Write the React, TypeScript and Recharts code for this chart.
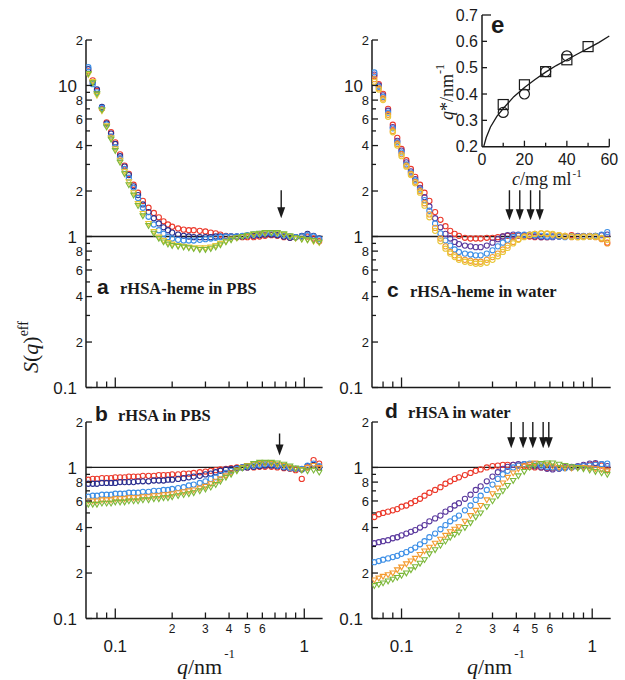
import React from 'react';
import { ScatterChart, Scatter, XAxis, YAxis, ReferenceLine } from 'recharts';

// q grid (nm^-1) shared by all S(q) curves
const qGrid = [0.072, 0.076, 0.08, 0.085, 0.09, 0.095, 0.1, 0.106, 0.112, 0.118, 0.125, 0.132, 0.14, 0.15, 0.16, 0.17, 0.18, 0.19, 0.2, 0.215, 0.23, 0.245, 0.26, 0.28, 0.3, 0.32, 0.34, 0.36, 0.385, 0.41, 0.44, 0.47, 0.5, 0.54, 0.58, 0.62, 0.67, 0.72, 0.78, 0.84, 0.9, 0.97, 1.04, 1.12, 1.2];

// a: rHSA-heme in PBS
const hemePbsRed = [12.4, 10.8, 9.2, 7.0, 5.7, 4.9, 4.2, 3.5, 2.95, 2.6, 2.2, 1.95, 1.72, 1.55, 1.43, 1.34, 1.26, 1.2, 1.16, 1.13, 1.11, 1.1, 1.1, 1.09, 1.08, 1.06, 1.05, 1.03, 1.01, 1.0, 0.99, 0.99, 0.99, 0.99, 1.0, 1.01, 1.02, 1.01, 0.99, 0.98, 0.99, 1.0, 1.0, 0.97, 0.93];
const hemePbsNavy = [12.8, 10.5, 9.4, 7.2, 5.6, 4.8, 4.1, 3.4, 2.9, 2.55, 2.15, 1.88, 1.63, 1.45, 1.32, 1.22, 1.15, 1.1, 1.06, 1.03, 1.01, 1.0, 0.99, 0.99, 0.99, 0.99, 1.0, 1.0, 1.0, 1.0, 1.0, 1.0, 1.01, 1.01, 1.02, 1.03, 1.03, 1.02, 1.0, 0.98, 0.99, 1.01, 1.04, 1.01, 0.97];
const hemePbsBlue = [13.2, 10.2, 9.0, 7.1, 5.5, 4.6, 3.9, 3.3, 2.8, 2.45, 2.1, 1.8, 1.55, 1.35, 1.2, 1.1, 1.04, 0.99, 0.97, 0.95, 0.94, 0.94, 0.94, 0.95, 0.96, 0.97, 0.98, 0.99, 1.0, 1.0, 1.0, 1.01, 1.02, 1.03, 1.04, 1.05, 1.05, 1.04, 1.02, 1.0, 0.99, 1.0, 1.02, 1.0, 0.96];
const hemePbsYellow = [11.8, 10.6, 8.6, 6.8, 5.4, 4.5, 3.8, 3.2, 2.7, 2.3, 1.95, 1.65, 1.42, 1.22, 1.08, 0.99, 0.94, 0.91, 0.89, 0.87, 0.86, 0.85, 0.84, 0.84, 0.84, 0.85, 0.87, 0.9, 0.93, 0.96, 0.98, 1.0, 1.01, 1.03, 1.04, 1.05, 1.06, 1.05, 1.03, 1.0, 0.97, 0.96, 0.95, 0.93, 0.91];
const hemePbsGreen = [12.0, 10.4, 8.8, 6.9, 5.3, 4.4, 3.7, 3.1, 2.6, 2.2, 1.88, 1.6, 1.37, 1.18, 1.05, 0.97, 0.92, 0.89, 0.87, 0.86, 0.85, 0.84, 0.83, 0.82, 0.82, 0.83, 0.85, 0.88, 0.92, 0.95, 0.98, 1.0, 1.02, 1.04, 1.05, 1.06, 1.06, 1.06, 1.04, 1.01, 0.98, 0.96, 0.95, 0.94, 0.92];

// c: rHSA-heme in water
const hemeWaterRed = [11.5, 10.2, 8.8, 7.0, 5.5, 4.5, 3.8, 3.2, 2.8, 2.48, 2.2, 1.95, 1.72, 1.45, 1.29, 1.17, 1.09, 1.04, 1.01, 0.98, 0.97, 0.97, 0.97, 0.98, 0.98, 0.99, 1.0, 1.01, 1.01, 1.01, 1.0, 1.0, 0.99, 0.99, 0.99, 1.0, 1.0, 1.01, 1.02, 1.01, 1.0, 1.0, 1.0, 0.97, 0.91];
const hemeWaterPurple = [11.8, 10.0, 8.6, 6.8, 5.3, 4.3, 3.7, 3.1, 2.7, 2.4, 2.1, 1.82, 1.58, 1.32, 1.15, 1.04, 0.97, 0.92, 0.89, 0.87, 0.86, 0.85, 0.85, 0.87, 0.91, 0.96, 1.0, 1.02, 1.03, 1.03, 1.02, 1.01, 1.0, 0.99, 0.99, 0.99, 1.0, 1.0, 1.0, 1.0, 1.0, 1.01, 1.01, 1.02, 1.03];
const hemeWaterBlue = [12.2, 9.8, 8.4, 6.6, 5.2, 4.2, 3.6, 3.0, 2.65, 2.35, 2.05, 1.74, 1.48, 1.22, 1.05, 0.94, 0.87, 0.82, 0.79, 0.77, 0.76, 0.75, 0.75, 0.77, 0.81, 0.86, 0.91, 0.95, 0.99, 1.02, 1.03, 1.03, 1.02, 1.01, 1.0, 1.0, 1.0, 0.99, 1.0, 1.0, 1.01, 1.0, 1.01, 1.03, 1.07];
const hemeWaterOrange = [11.0, 9.6, 8.2, 6.4, 5.0, 4.1, 3.5, 2.95, 2.6, 2.3, 2.0, 1.66, 1.4, 1.14, 0.97, 0.86, 0.79, 0.75, 0.72, 0.7, 0.69, 0.68, 0.68, 0.7, 0.73, 0.77, 0.82, 0.87, 0.92, 0.96, 1.0, 1.03, 1.04, 1.05, 1.04, 1.03, 1.02, 1.0, 0.99, 0.99, 1.0, 1.0, 0.99, 0.96, 0.9];
const hemeWaterYellow = [10.6, 9.4, 8.0, 6.2, 4.9, 4.0, 3.4, 2.9, 2.55, 2.25, 1.95, 1.6, 1.34, 1.09, 0.93, 0.83, 0.77, 0.73, 0.7, 0.68, 0.67, 0.66, 0.66, 0.67, 0.7, 0.74, 0.79, 0.84, 0.9, 0.95, 0.99, 1.02, 1.04, 1.05, 1.05, 1.04, 1.02, 1.01, 1.0, 0.99, 0.99, 1.0, 1.0, 0.98, 0.95];

// b: rHSA in PBS
const pbsRed = [0.83, 0.84, 0.84, 0.85, 0.85, 0.85, 0.86, 0.86, 0.86, 0.87, 0.87, 0.87, 0.88, 0.88, 0.88, 0.89, 0.89, 0.89, 0.9, 0.9, 0.91, 0.91, 0.92, 0.93, 0.94, 0.95, 0.96, 0.97, 0.98, 0.99, 1.0, 1.0, 1.0, 1.0, 1.01, 1.01, 1.01, 1.0, 0.99, 0.98, 0.96, 0.84, 1.0, 1.12, 1.06];
const pbsNavy = [0.78, 0.78, 0.78, 0.79, 0.79, 0.79, 0.79, 0.8, 0.8, 0.8, 0.8, 0.81, 0.81, 0.81, 0.82, 0.82, 0.82, 0.83, 0.83, 0.84, 0.85, 0.86, 0.87, 0.88, 0.9, 0.91, 0.93, 0.95, 0.97, 0.98, 0.99, 1.0, 1.0, 1.01, 1.02, 1.03, 1.03, 1.02, 1.0, 0.99, 0.98, 0.97, 1.02, 1.04, 1.0];
const pbsBlue = [0.64, 0.65, 0.65, 0.66, 0.66, 0.66, 0.67, 0.67, 0.67, 0.68, 0.68, 0.68, 0.69, 0.69, 0.7, 0.7, 0.71, 0.71, 0.72, 0.73, 0.74, 0.76, 0.77, 0.79, 0.81, 0.84, 0.86, 0.89, 0.92, 0.95, 0.98, 1.0, 1.02, 1.03, 1.04, 1.05, 1.05, 1.03, 1.01, 0.99, 0.98, 0.98, 1.03, 1.06, 1.02];
const pbsOrange = [0.6, 0.6, 0.6, 0.61, 0.61, 0.61, 0.62, 0.62, 0.62, 0.63, 0.63, 0.63, 0.64, 0.64, 0.65, 0.65, 0.66, 0.66, 0.67, 0.68, 0.69, 0.7, 0.71, 0.73, 0.75, 0.78, 0.81, 0.84, 0.88, 0.92, 0.96, 1.0, 1.03, 1.05, 1.06, 1.07, 1.06, 1.05, 1.03, 1.0, 0.98, 0.97, 1.0, 1.03, 1.0];
const pbsGreen = [0.57, 0.57, 0.57, 0.58, 0.58, 0.58, 0.59, 0.59, 0.59, 0.6, 0.6, 0.6, 0.61, 0.61, 0.62, 0.62, 0.63, 0.63, 0.64, 0.65, 0.66, 0.67, 0.68, 0.7, 0.72, 0.74, 0.77, 0.81, 0.86, 0.9, 0.95, 0.99, 1.02, 1.06, 1.08, 1.08, 1.08, 1.07, 1.05, 1.02, 0.99, 0.96, 0.95, 0.96, 0.93];

// d: rHSA in water
const waterRed = [0.47, 0.49, 0.5, 0.51, 0.52, 0.53, 0.55, 0.56, 0.58, 0.6, 0.62, 0.65, 0.68, 0.71, 0.74, 0.78, 0.81, 0.84, 0.86, 0.89, 0.92, 0.95, 0.97, 1.0, 1.02, 1.03, 1.04, 1.04, 1.04, 1.03, 1.02, 1.01, 1.0, 1.0, 0.99, 0.99, 0.99, 1.0, 1.0, 1.01, 1.02, 1.04, 1.05, 1.03, 0.97];
const waterPurple = [0.315, 0.32, 0.325, 0.33, 0.34, 0.345, 0.355, 0.365, 0.375, 0.385, 0.4, 0.415, 0.44, 0.46, 0.48, 0.51, 0.53, 0.56, 0.58, 0.62, 0.66, 0.71, 0.75, 0.81, 0.87, 0.93, 0.98, 1.01, 1.04, 1.05, 1.05, 1.04, 1.02, 1.0, 0.98, 0.97, 0.98, 1.0, 1.01, 1.02, 1.04, 1.06, 1.07, 1.05, 1.02];
const waterBlue = [0.236, 0.24, 0.245, 0.25, 0.255, 0.26, 0.268, 0.275, 0.285, 0.295, 0.31, 0.325, 0.345, 0.365, 0.39, 0.415, 0.44, 0.46, 0.48, 0.52, 0.56, 0.61, 0.65, 0.71, 0.77, 0.84, 0.9, 0.95, 1.0, 1.03, 1.05, 1.06, 1.05, 1.03, 1.01, 1.0, 0.99, 0.99, 1.0, 1.01, 1.02, 1.03, 1.04, 1.05, 1.06];
const waterOrange = [0.18, 0.185, 0.19, 0.195, 0.2, 0.21, 0.219, 0.23, 0.24, 0.25, 0.265, 0.28, 0.296, 0.315, 0.335, 0.355, 0.375, 0.39, 0.405, 0.44, 0.48, 0.52, 0.56, 0.61, 0.67, 0.73, 0.79, 0.86, 0.92, 0.98, 1.02, 1.05, 1.07, 1.06, 1.04, 1.02, 1.0, 0.99, 0.99, 1.0, 1.0, 0.99, 0.98, 0.97, 0.95];
const waterGreen = [0.165, 0.168, 0.172, 0.177, 0.182, 0.187, 0.193, 0.2, 0.21, 0.22, 0.232, 0.245, 0.268, 0.285, 0.305, 0.325, 0.345, 0.36, 0.373, 0.4, 0.43, 0.47, 0.5, 0.55, 0.6, 0.65, 0.7, 0.76, 0.82, 0.88, 0.94, 1.0, 1.03, 1.06, 1.07, 1.07, 1.05, 1.03, 1.01, 0.99, 0.98, 0.96, 0.94, 0.92, 0.9];

// arrow positions (q) and tip heights (S)
const arrowsHemePbs = [0.755];
const arrowsHemeWater = [0.368, 0.417, 0.475, 0.531];
const arrowsPbs = [0.74];
const arrowsWater = [0.376, 0.434, 0.488, 0.553, 0.592];

// e: q* vs c
const inCircC = [10, 20, 30, 40];
const inCircQ = [0.33, 0.4, 0.485, 0.545];
const inSqC = [10, 20, 30, 40, 50];
const inSqQ = [0.36, 0.435, 0.485, 0.53, 0.58];
const fitC = [0.8, 2, 4, 7, 10, 15, 20, 25, 30, 35, 40, 45, 50, 55, 60];
const fitQ = [0.2, 0.235, 0.275, 0.315, 0.345, 0.39, 0.425, 0.455, 0.483, 0.508, 0.53, 0.552, 0.573, 0.595, 0.62];

const xTicks = [0.08, 0.09, 0.1, 0.2, 0.3, 0.4, 0.5, 0.6, 0.7, 0.8, 0.9, 1];
const yTicksTop = [0.1, 0.2, 0.3, 0.4, 0.5, 0.6, 0.7, 0.8, 0.9, 1, 2, 3, 4, 5, 6, 7, 8, 9, 10, 20];
const yTicksBot = [0.1, 0.2, 0.3, 0.4, 0.5, 0.6, 0.7, 0.8, 0.9, 1, 2];

const RED = '#ec3a2c';
const NAVY = '#2b2f8f';
const PURPLE = '#5b3a9e';
const BLUE = '#3d8fe6';
const ORANGE = '#f39a2e';
const YELLOW = '#e9c83a';
const GREEN = '#7cb83a';
const INK = '#1a1a1a';
const SANS = '"Liberation Sans", Arial, sans-serif';
const SERIF = '"Liberation Serif", "Times New Roman", serif';

const pts = (vals: number[]) => qGrid.map((q, i) => ({ q, s: vals[i] }));

const circle = (color: string) => (p: any) => (
  <circle cx={p.cx} cy={p.cy} r={2.6} fill="none" stroke={color} strokeWidth={1.1} />
);
const tri = (color: string) => (p: any) => (
  <path d={`M${p.cx - 2.8},${p.cy - 2} L${p.cx + 2.8},${p.cy - 2} L${p.cx},${p.cy + 2.8} Z`} fill="none" stroke={color} strokeWidth={1.1} />
);
const arrow = (len: number) => (p: any) => (
  <g>
    <line x1={p.cx} x2={p.cx} y1={p.cy - len} y2={p.cy - 8} stroke={INK} strokeWidth={1.4} />
    <path d={`M${p.cx - 4},${p.cy - 11} L${p.cx + 4},${p.cy - 11} L${p.cx},${p.cy} Z`} fill={INK} />
  </g>
);

const yLabel = (v: number) => {
  const map: Record<string, string> = { '0.1': '0.1', '0.2': '2', '0.4': '4', '0.6': '6', '0.8': '8', '1': '1', '2': '2', '4': '4', '6': '6', '8': '8', '10': '10', '20': '2' };
  return map[String(v)];
};

const YTick = (p: any) => {
  const v = p.payload.value;
  const lab = yLabel(v);
  const big = v === 0.1 || v === 1 || v === 10;
  return (
    <g>
      <line x1={p.x} x2={p.x + (lab ? 6 : 4)} y1={p.y} y2={p.y} stroke={INK} strokeWidth={1.3} />
      {lab && (
        <text x={p.x - (big ? 9 : 3)} y={p.y} dy="0.36em" textAnchor="end" fontFamily={SANS} fontSize={big ? 17 : 13} fill={INK}>
          {lab}
        </text>
      )}
    </g>
  );
};

const makeXTick = (show: boolean) => (p: any) => {
  const v = p.payload.value;
  const major = v === 0.1 || v === 1;
  const minorLab = [0.2, 0.3, 0.4, 0.5, 0.6].includes(v) ? String(Math.round(v * 10)) : '';
  return (
    <g>
      <line x1={p.x} x2={p.x} y1={p.y} y2={p.y - (major ? 10 : 6)} stroke={INK} strokeWidth={1.3} />
      {show && major && (
        <text x={p.x} y={p.y + 27} dy="0.36em" textAnchor="middle" fontFamily={SANS} fontSize={17} fill={INK}>{v === 1 ? '1' : '0.1'}</text>
      )}
      {show && minorLab && (
        <text x={p.x} y={p.y + 10} dy="0.36em" textAnchor="middle" fontFamily={SANS} fontSize={12} fill={INK}>{minorLab}</text>
      )}
    </g>
  );
};

type Series = { vals: number[]; color: string; tri?: boolean };

const M = { top: 14, right: 14, left: 0, bottom: 0 };
const YW = 50;
const XH = 50;

function Panel(props: {
  left: number; top: number; w: number; h: number; yMax: number; yTicks: number[];
  series: Series[]; arrows: number[]; tip: number; len: number; labels: boolean;
}) {
  const { left, top, w, h, yMax, yTicks, series, arrows, tip, len, labels } = props;
  return (
    <div style={{ position: 'absolute', left: left - YW, top: top - M.top }}>
      <ScatterChart width={YW + w + M.right} height={M.top + h + XH} margin={M}>
        <XAxis type="number" dataKey="q" scale="log" domain={[0.07, 1.25]} allowDataOverflow ticks={xTicks} interval={0}
          height={XH} tickSize={0} tickMargin={0} tickLine={false} axisLine={{ stroke: INK, strokeWidth: 1.5 }} tick={makeXTick(labels)} />
        <YAxis type="number" dataKey="s" scale="log" domain={[0.1, yMax]} allowDataOverflow ticks={yTicks} interval={0}
          width={YW} tickSize={0} tickMargin={0} tickLine={false} axisLine={{ stroke: INK, strokeWidth: 1.5 }} tick={YTick} />
        <ReferenceLine y={1} stroke={INK} strokeWidth={1.3} />
        {series.map((s, i) => (
          <Scatter key={i} data={pts(s.vals)} shape={s.tri ? tri(s.color) : circle(s.color)} isAnimationActive={false} />
        ))}
        <Scatter data={arrows.map((q) => ({ q, s: tip }))} shape={arrow(len)} isAnimationActive={false} />
      </ScatterChart>
    </div>
  );
}

const InTick = (axis: 'x' | 'y') => (p: any) => {
  const v = p.payload.value;
  if (axis === 'x') {
    const major = v % 20 === 0;
    return (
      <g>
        {v > 0 && <line x1={p.x} x2={p.x} y1={p.y} y2={p.y - (v === 60 ? 8 : major ? 6 : 4)} stroke={INK} strokeWidth={1.3} />}
        {major && <text x={p.x} y={p.y + 13} dy="0.36em" textAnchor="middle" fontFamily={SANS} fontSize={16} fill={INK}>{v}</text>}
      </g>
    );
  }
  return (
    <g>
      {v > 0.2 && <line x1={p.x} x2={p.x + (v === 0.7 ? 9 : 5)} y1={p.y} y2={p.y} stroke={INK} strokeWidth={1.3} />}
      <text x={p.x - 4} y={p.y} dy="0.36em" textAnchor="end" fontFamily={SANS} fontSize={16} fill={INK}>{v.toFixed(1)}</text>
    </g>
  );
};

function Inset() {
  const left = 481.7, top = 15, w = 127.3, h = 131.7;
  const m = { top: 10, right: 10, left: 0, bottom: 0 };
  return (
    <div style={{ position: 'absolute', left: left - 40, top: top - m.top }}>
      <ScatterChart width={40 + w + m.right} height={m.top + h + 30} margin={m}>
        <XAxis type="number" dataKey="c" domain={[0, 60]} ticks={[0, 10, 20, 30, 40, 50, 60]} interval={0} height={30}
          tickSize={0} tickMargin={0} tickLine={false} axisLine={{ stroke: INK, strokeWidth: 1.5 }} tick={InTick('x')} />
        <YAxis type="number" dataKey="v" domain={[0.2, 0.7]} ticks={[0.2, 0.3, 0.4, 0.5, 0.6, 0.7]} interval={0} width={40}
          tickSize={0} tickMargin={0} tickLine={false} axisLine={{ stroke: INK, strokeWidth: 1.5 }} tick={InTick('y')} />
        <Scatter data={fitC.map((c, i) => ({ c, v: fitQ[i] }))} line={{ stroke: INK, strokeWidth: 1.3 }} lineType="joint"
          shape={() => <g />} isAnimationActive={false} />
        <Scatter data={inCircC.map((c, i) => ({ c, v: inCircQ[i] }))} isAnimationActive={false}
          shape={(p: any) => <circle cx={p.cx} cy={p.cy} r={5} fill="none" stroke={INK} strokeWidth={1.2} />} />
        <Scatter data={inSqC.map((c, i) => ({ c, v: inSqQ[i] }))} isAnimationActive={false}
          shape={(p: any) => <rect x={p.cx - 5} y={p.cy - 5} width={10} height={10} fill="none" stroke={INK} strokeWidth={1.2} />} />
      </ScatterChart>
    </div>
  );
}

const topY = 39.5, topH = 347.5, botY = 421.5, botH = 196.5;
const leftX = 85.7, leftW = 236.6, rightX = 371.5, rightW = 238.7;

export default function App() {
  const lab = (x: number, y: number, letter: string, text: string) => (
    <g>
      <text x={x} y={y} fontFamily={SANS} fontWeight="bold" fontSize={21} fill={INK}>{letter}</text>
      <text x={x + 23} y={y} fontFamily={SERIF} fontWeight="bold" fontSize={16.5} fill={INK}>{text}</text>
    </g>
  );
  const qTitle = (x: number) => (
    <text x={x} y={674} fontFamily={SERIF} fontSize={22} fill={INK}>
      <tspan fontStyle="italic">q</tspan>/nm<tspan dy={-16} dx={2} fontSize={13}>-1</tspan>
    </text>
  );
  return (
    <div style={{ position: 'absolute', left: 0, top: 0, width: 625, height: 680, background: '#fff', overflow: 'hidden' }}>
      <Panel left={leftX} top={topY} w={leftW} h={topH} yMax={20} yTicks={yTicksTop} tip={1.32} len={28} labels={false}
        arrows={arrowsHemePbs}
        series={[{ vals: hemePbsRed, color: RED }, { vals: hemePbsNavy, color: NAVY }, { vals: hemePbsBlue, color: BLUE },
          { vals: hemePbsYellow, color: YELLOW, tri: true }, { vals: hemePbsGreen, color: GREEN, tri: true }]} />
      <Panel left={rightX} top={topY} w={rightW} h={topH} yMax={20} yTicks={yTicksTop} tip={1.28} len={30} labels={false}
        arrows={arrowsHemeWater}
        series={[{ vals: hemeWaterRed, color: RED }, { vals: hemeWaterPurple, color: PURPLE }, { vals: hemeWaterBlue, color: BLUE },
          { vals: hemeWaterOrange, color: ORANGE }, { vals: hemeWaterYellow, color: YELLOW }]} />
      <Panel left={leftX} top={botY} w={leftW} h={botH} yMax={2} yTicks={yTicksBot} tip={1.2} len={22} labels
        arrows={arrowsPbs}
        series={[{ vals: pbsRed, color: RED }, { vals: pbsNavy, color: NAVY }, { vals: pbsBlue, color: BLUE },
          { vals: pbsOrange, color: ORANGE, tri: true }, { vals: pbsGreen, color: GREEN, tri: true }]} />
      <Panel left={rightX} top={botY} w={rightW} h={botH} yMax={2} yTicks={yTicksBot} tip={1.34} len={33} labels
        arrows={arrowsWater}
        series={[{ vals: waterRed, color: RED }, { vals: waterPurple, color: PURPLE }, { vals: waterBlue, color: BLUE },
          { vals: waterOrange, color: ORANGE, tri: true }, { vals: waterGreen, color: GREEN, tri: true }]} />
      <Inset />
      <svg width={625} height={680} style={{ position: 'absolute', left: 0, top: 0, pointerEvents: 'none' }}>
        {lab(97, 294, 'a', 'rHSA-heme in PBS')}
        {lab(387, 297, 'c', 'rHSA-heme in water')}
        {lab(95, 421, 'b', 'rHSA in PBS')}
        {lab(385, 418, 'd', 'rHSA in water')}
        <text x={491} y={33} fontFamily={SANS} fontWeight="bold" fontSize={24} fill={INK}>e</text>
        <text transform="rotate(-90 38 373)" x={38} y={373} fontFamily={SERIF} fontSize={22} fill={INK}>
          <tspan fontStyle="italic">S</tspan>(<tspan fontStyle="italic">q</tspan>)<tspan dy={-10} fontSize={14}>eff</tspan>
        </text>
        {qTitle(177)}
        {qTitle(467)}
        <text transform="rotate(-90 453 120)" x={453} y={120} fontFamily={SERIF} fontSize={18} fill={INK}>
          <tspan fontStyle="italic">q</tspan>*/nm<tspan dy={-9} fontSize={12}>-1</tspan>
        </text>
        <text x={512} y={185} fontFamily={SERIF} fontSize={18} fill={INK}>
          <tspan fontStyle="italic">c</tspan>/mg ml<tspan dy={-8} dx={1} fontSize={11}>-1</tspan>
        </text>
      </svg>
    </div>
  );
}
